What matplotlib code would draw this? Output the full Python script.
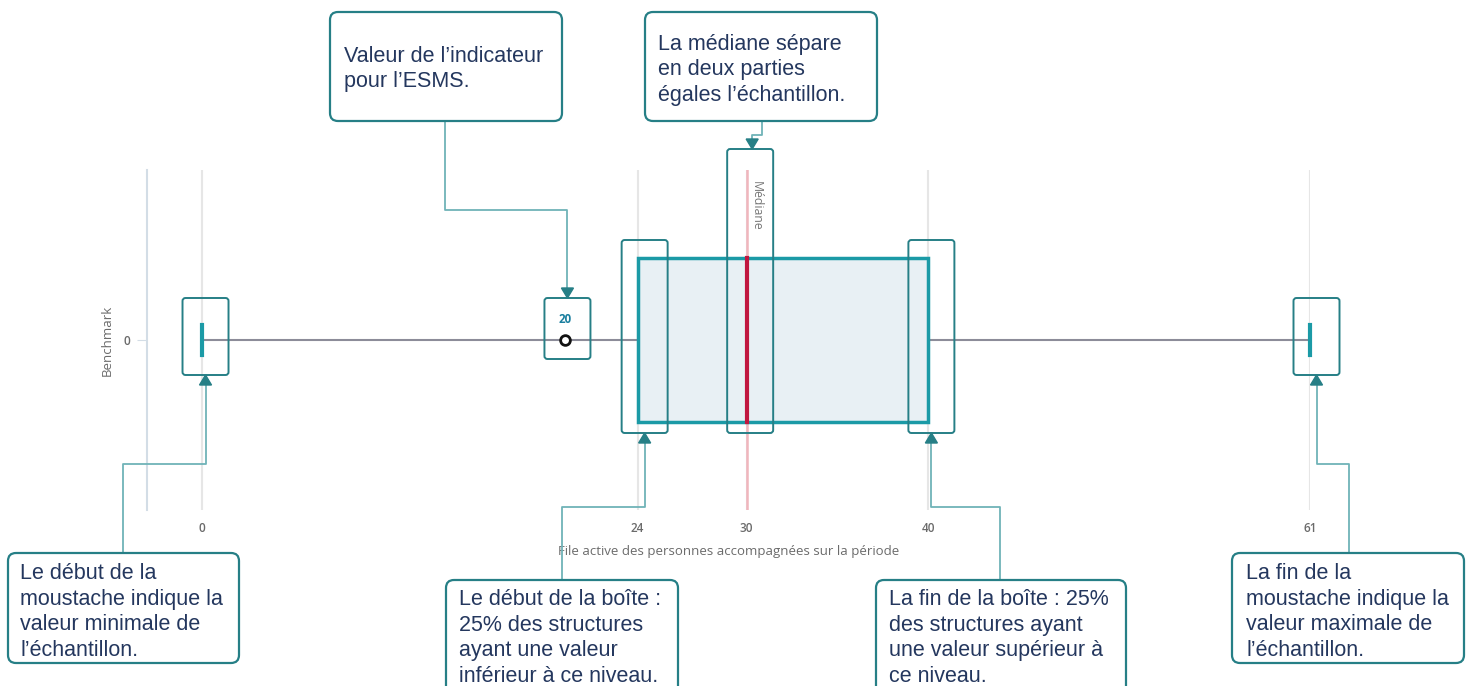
import matplotlib
matplotlib.use("Agg")
import matplotlib.pyplot as plt
from matplotlib.patches import Rectangle, FancyBboxPatch, Polygon
from matplotlib.lines import Line2D
from matplotlib.transforms import IdentityTransform

# --- data ---
category = "Benchmark"
minimum = 0
q1 = 24
median = 30
q3 = 40
maximum = 61
esms_value = 20
tick_values = [0, 24, 30, 40, 61]
x_label = "File active des personnes accompagnées sur la période"

notes = [
    "Valeur de l\u2019indicateur\npour l\u2019ESMS.",
    "La médiane sépare\nen deux parties\négales l\u2019échantillon.",
    "Le début de la\nmoustache indique la\nvaleur minimale de\nl\u2019échantillon.",
    "Le début de la boîte :\n25% des structures\nayant une valeur\ninférieur à ce niveau.",
    "La fin de la boîte : 25%\ndes structures ayant\nune valeur supérieur à\nce niveau.",
    "La fin de la\nmoustache indique la\nvaleur maximale de\nl\u2019échantillon.",
]

W, H = 1474, 686
TEAL = "#1b9aa6"
BOX_EDGE = "#267f86"
LINK = "#6fb3b8"
NAVY = "#24375e"
GREY_TXT = "#6b6b6b"

fig = plt.figure(figsize=(W / 100, H / 100), dpi=100)
ax = fig.add_axes([147 / W, 1 - 510 / H, (1310 - 147) / W, 340 / H])
ax.set_xlim(-3, 61)
ax.set_ylim(-1, 1)

# grid + spines
for v in tick_values:
    ax.axvline(v, color="#e6e6e6", lw=1.5, zorder=0)
for s in ["top", "right", "bottom"]:
    ax.spines[s].set_visible(False)
ax.spines["left"].set_color("#d3dde6")
ax.spines["left"].set_linewidth(1.5)

ax.set_xticks(tick_values)
ax.set_xticklabels([str(v) for v in tick_values], fontsize=8.5,
                   color=GREY_TXT, family="Open Sans", fontweight="semibold")
ax.tick_params(axis="x", length=0, pad=9)
ax.set_yticks([0])
ax.set_yticklabels(["0"], fontsize=8.5, color=GREY_TXT, family="Open Sans",
                   fontweight="semibold")
ax.tick_params(axis="y", length=7, color="#d3dde6", pad=5)
ax.set_xlabel(x_label, fontsize=9.5, color=GREY_TXT, family="Open Sans", labelpad=7)
ax.set_ylabel(category, fontsize=9.5, color=GREY_TXT, family="Open Sans", labelpad=7)

# whiskers
ax.plot([minimum, q1], [0, 0], color="#8c8c99", lw=1.5, zorder=2)
ax.plot([q3, maximum], [0, 0], color="#8c8c99", lw=1.5, zorder=2)
ax.plot([minimum, minimum], [-0.09, 0.09], color=TEAL, lw=3, zorder=3,
        clip_on=False)
ax.plot([maximum, maximum], [-0.09, 0.09], color=TEAL, lw=3, zorder=3,
        clip_on=False)

# box
ax.add_patch(Rectangle((q1, -0.485), q3 - q1, 0.97, facecolor="#e8f0f4",
                       edgecolor=TEAL, lw=2.5, zorder=2))

# median
ax.axvline(median, color="#f0b6bd", lw=1.8, zorder=1)
ax.plot([median, median], [-0.485, 0.485], color="#c0173f", lw=3, zorder=4)
ax.text(median + 0.5, 0.79, "Médiane", rotation=270, ha="center", va="center",
        fontsize=8.8, color="#777777", family="Open Sans")

# esms value
ax.plot([esms_value], [0], marker="o", ms=7, mfc="white", mec="#111111",
        mew=2, zorder=5)
ax.text(esms_value, 0.08, str(esms_value), ha="center", va="bottom",
        fontsize=8.3, color="#1a7f9f", fontweight="bold", family="Open Sans")

ident = IdentityTransform()


def px(x, y):
    d = ax.transData.transform((x, y))
    return d[0], H - d[1]


def rbox(x0, y0, x1, y1, lw=1.5, r=6):
    p = FancyBboxPatch((x0, H - y1), x1 - x0, y1 - y0,
                       boxstyle=f"round,pad=0,rounding_size={r}",
                       transform=ident, fill=False, edgecolor=BOX_EDGE, lw=lw,
                       zorder=10)
    fig.add_artist(p)


def link(points, up):
    xs = [p[0] for p in points]
    ys = [H - p[1] for p in points]
    tx, ty = xs[-1], ys[-1]
    if up:
        ys[-1] -= 8
        tri = [(tx - 6, ty - 10), (tx + 6, ty - 10), (tx, ty)]
    else:
        ys[-1] += 8
        tri = [(tx - 6, ty + 10), (tx + 6, ty + 10), (tx, ty)]
    fig.add_artist(Line2D(xs, ys, transform=ident, color=LINK, lw=1.3, zorder=9))
    fig.add_artist(Polygon(tri, closed=True, transform=ident, color=BOX_EDGE,
                           zorder=11))


# highlight frames around marks
def highlight(xv, shift, top, bottom):
    cx, _ = px(xv, 0)
    cx += shift
    rbox(cx - 23, top, cx + 23, bottom, lw=1.4, r=3)
    return cx


_, y0 = px(0, 0)
c_min = highlight(minimum, 4, y0 - 42, y0 + 35)
c_val = highlight(esms_value, 2.5, y0 - 42, y0 + 19)
c_q1 = highlight(q1, 7, 240, 433)
c_med = highlight(median, 3.5, 149, 433)
c_q3 = highlight(q3, 3, 240, 433)
c_max = highlight(maximum, 6.5, y0 - 42, y0 + 35)

# annotation boxes: (x0, y0, x1, y1) pixels from top-left
frames = [
    (330, 12, 562, 121),
    (645, 12, 877, 121),
    (8, 553, 239, 663),
    (446, 580, 678, 700),
    (876, 580, 1126, 700),
    (1232, 553, 1464, 663),
]
text_pos = [(344, 69), (658, 70), (20, 612), (459, 638), (889, 638), (1246, 612)]

for (x0, y0b, x1, y1), (tx, ty), txt in zip(frames, text_pos, notes):
    rbox(x0, y0b, x1, y1, lw=1.6, r=8)
    fig.text(tx / W, 1 - ty / H, txt, ha="left", va="center", fontsize=15.5,
             color=NAVY, family="Liberation Sans", linespacing=1.3, zorder=12)

link([(445, 121), (445, 210), (c_val, 210), (c_val, 298)], up=False)
link([(762, 121), (762, 135), (c_med + 2, 135), (c_med + 2, 149)], up=False)
link([(123, 553), (123, 464), (c_min, 464), (c_min, y0 + 35)], up=True)
link([(562, 580), (562, 507), (c_q1, 507), (c_q1, 433)], up=True)
link([(1000, 580), (1000, 507), (c_q3, 507), (c_q3, 433)], up=True)
link([(1349, 553), (1349, 464), (c_max, 464), (c_max, y0 + 35)], up=True)

fig.savefig("out.png", dpi=100)
